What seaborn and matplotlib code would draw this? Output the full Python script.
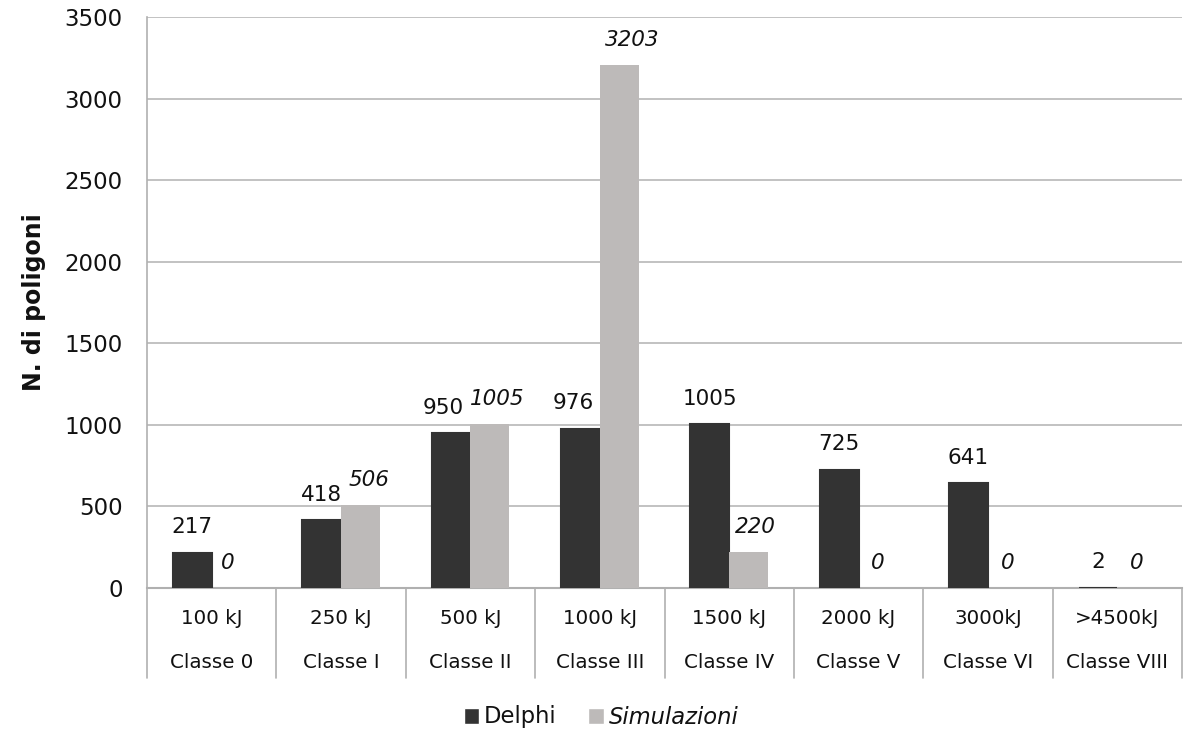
import matplotlib
matplotlib.use("Agg")
import matplotlib.pyplot as plt
import matplotlib.transforms as mtransforms
from matplotlib.patches import Patch
import seaborn as sns
import pandas as pd

energies = ["100 kJ", "250 kJ", "500 kJ", "1000 kJ", "1500 kJ", "2000 kJ", "3000kJ", ">4500kJ"]
classes = ["Classe 0", "Classe I", "Classe II", "Classe III", "Classe IV", "Classe V", "Classe VI", "Classe VIII"]
delphi = [217, 418, 950, 976, 1005, 725, 641, 2]
simulazioni = [0, 506, 1005, 3203, 220, 0, 0, 0]
series_names = ["Delphi", "Simulazioni"]
colors = ["#333333", "#bdbab9"]

# horizontal nudges (pixels) of value labels to avoid overlaps, as in the original
delphi_nudge = [0, 0, -8, -7, 0, 0, 0, 0]
simul_nudge = [-3, 9, 7, 13, 7, 0, 0, 0]

df = pd.DataFrame({
    "cat": energies * 2,
    "val": delphi + simulazioni,
    "serie": [series_names[0]] * len(energies) + [series_names[1]] * len(energies),
})

sns.set_style("white")
plt.rcParams["font.family"] = ["DejaVu Sans"]
TXT = "#111111"

fig = plt.figure(figsize=(12.01, 7.32), dpi=100)
ax = fig.add_axes([147 / 1201, 1 - 588 / 732, (1182 - 147) / 1201, (588 - 17) / 732])

sns.barplot(data=df, x="cat", y="val", hue="serie", order=energies,
            hue_order=series_names, palette=colors, width=0.6,
            saturation=1, ax=ax, legend=False, linewidth=0)

# same-colour outline so very small bars (e.g. value 2) stay visible above the axis line
for rect in ax.containers[0]:
    rect.set_edgecolor(colors[0])
    rect.set_linewidth(1.5)
    rect.set_zorder(3)
for rect in ax.containers[1]:
    rect.set_zorder(3)

ax.set_xlim(-0.5, len(energies) - 0.5)
ax.set_ylim(0, 3500)
ax.set_yticks(range(0, 3501, 500))
ax.tick_params(axis="y", labelsize=16.5, length=6, color="#b0b0b0", width=1.2, pad=11.5,
               labelcolor=TXT)
ax.set_xticks([])
ax.set_xlabel("")
ax.set_ylabel("N. di poligoni", fontsize=17, fontweight="heavy", color=TXT)
ax.yaxis.set_label_coords(-(147 - 46) / (1182 - 147), 0.5)
ax.yaxis.grid(True, color="#b8b8b8", linewidth=1.2)
ax.set_axisbelow(True)
for s in ["top", "right"]:
    ax.spines[s].set_visible(False)
ax.spines["left"].set_color("#b0b0b0")
ax.spines["left"].set_linewidth(1.2)
ax.spines["bottom"].set_color("#b0b0b0")
ax.spines["bottom"].set_linewidth(1.5)

# value labels
px = 72 / 100
for ci, cont in enumerate(ax.containers):
    style = "normal" if ci == 0 else "italic"
    vals = delphi if ci == 0 else simulazioni
    nud = delphi_nudge if ci == 0 else simul_nudge
    for rect, v, n in zip(cont, vals, nud):
        x = rect.get_x() + rect.get_width() / 2
        ax.annotate(str(v), (x, rect.get_height()), xytext=(n * px, 11),
                    textcoords="offset points", ha="center", va="bottom",
                    fontsize=15.5, style=style, color=TXT)

# category labels and dividers
trans = mtransforms.blended_transform_factory(ax.transData, ax.transAxes)
h_px = 588 - 17
for i, (e, c) in enumerate(zip(energies, classes)):
    ax.text(i, -(618 - 588) / h_px, e, transform=trans, ha="center", va="center", fontsize=14.3, color=TXT)
    ax.text(i, -(663 - 588) / h_px, c, transform=trans, ha="center", va="center", fontsize=14.3, color=TXT)
for i in range(len(energies) + 1):
    ax.plot([i - 0.5, i - 0.5], [0, -(678 - 588) / h_px], transform=trans,
            color="#b0b0b0", linewidth=1.2, clip_on=False)

handles = [Patch(facecolor=colors[0], label=series_names[0]),
           Patch(facecolor=colors[1], label=series_names[1])]
leg = fig.legend(handles=handles, loc="center", bbox_to_anchor=(601 / 1201, 1 - 717 / 732),
                 ncol=2, frameon=False, fontsize=16.3, handlelength=0.7, handleheight=0.7,
                 handletextpad=0.2, columnspacing=1.4, labelcolor=TXT)
leg.get_texts()[1].set_style("italic")

fig.savefig("out.png", dpi=100)
